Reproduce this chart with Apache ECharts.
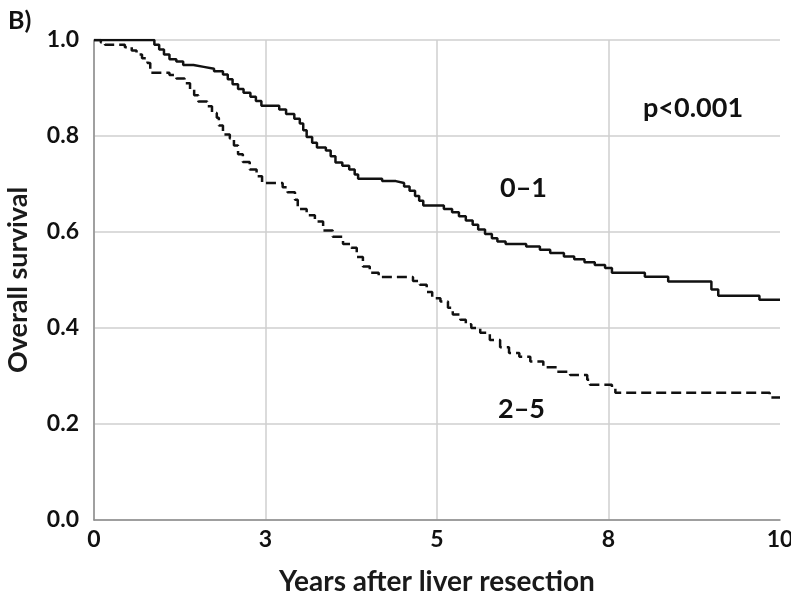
<!DOCTYPE html>
<html>
<head>
<meta charset="utf-8">
<script src="https://cdn.jsdelivr.net/npm/echarts@6/dist/echarts.min.js"></script>
<style>
html,body{margin:0;padding:0;background:#fff;}
#chart{width:791px;height:600px;}
</style>
</head>
<body>
<div id="chart"></div>
<script>
// Group 0–1 (solid): event times (years) and survival after each step
const solidTimes = [0, 0.88, 0.95, 1.02, 1.1, 1.2, 1.3, 1.45, 1.6, 1.75, 1.88, 1.95, 2.02, 2.1, 2.18, 2.28, 2.36, 2.44, 2.7, 2.8, 2.92, 3.0, 3.05, 3.1, 3.18, 3.25, 3.38, 3.45, 3.52, 3.62, 3.72, 3.8, 3.85, 4.2, 4.4, 4.52, 4.6, 4.68, 4.74, 4.8, 5.1, 5.22, 5.32, 5.42, 5.52, 5.6, 5.7, 5.8, 5.88, 6.0, 6.3, 6.5, 6.65, 6.85, 7.0, 7.15, 7.3, 7.45, 7.55, 8.03, 8.37, 9.0, 9.1, 9.7, 10.0];
const solidSurv = [1.0, 0.99, 0.98, 0.97, 0.96, 0.955, 0.948, 0.944, 0.94, 0.935, 0.928, 0.918, 0.908, 0.898, 0.89, 0.882, 0.873, 0.863, 0.855, 0.846, 0.836, 0.826, 0.812, 0.798, 0.786, 0.776, 0.77, 0.758, 0.745, 0.738, 0.73, 0.72, 0.711, 0.706, 0.702, 0.695, 0.686, 0.675, 0.665, 0.655, 0.648, 0.641, 0.633, 0.624, 0.615, 0.605, 0.596, 0.587, 0.58, 0.575, 0.57, 0.563, 0.556, 0.549, 0.543, 0.537, 0.531, 0.525, 0.515, 0.507, 0.497, 0.48, 0.467, 0.459, 0.459];
// Group 2–5 (dashed)
const dashTimes = [0, 0.1, 0.16, 0.45, 0.55, 0.62, 0.7, 0.78, 0.82, 1.1, 1.2, 1.32, 1.4, 1.46, 1.52, 1.65, 1.72, 1.79, 1.82, 1.88, 1.98, 2.04, 2.1, 2.17, 2.27, 2.37, 2.45, 2.75, 2.82, 2.93, 2.97, 3.1, 3.22, 3.34, 3.48, 3.63, 3.75, 3.83, 3.92, 4.02, 4.15, 4.65, 4.75, 4.85, 4.93, 5.05, 5.16, 5.23, 5.34, 5.42, 5.5, 5.63, 5.77, 5.92, 6.05, 6.2, 6.36, 6.55, 6.75, 6.94, 7.19, 7.23, 7.55, 7.6, 9.85, 10.0];
const dashSurv = [1.0, 0.995, 0.99, 0.985, 0.978, 0.97, 0.962, 0.952, 0.932, 0.927, 0.92, 0.91, 0.898, 0.885, 0.872, 0.862, 0.848, 0.838, 0.822, 0.803, 0.795, 0.78, 0.762, 0.746, 0.73, 0.716, 0.702, 0.693, 0.683, 0.667, 0.648, 0.635, 0.622, 0.603, 0.59, 0.575, 0.567, 0.548, 0.528, 0.515, 0.506, 0.498, 0.49, 0.475, 0.462, 0.455, 0.442, 0.428, 0.417, 0.408, 0.4, 0.39, 0.375, 0.36, 0.348, 0.34, 0.33, 0.318, 0.309, 0.302, 0.292, 0.282, 0.275, 0.265, 0.255, 0.255];

const xTicks = {min: 0, max: 10, interval: 2.5};
const yTicks = {min: 0, max: 1, interval: 0.2};

const FONT = 'Lato, "Open Sans", sans-serif';
const chart = echarts.init(document.getElementById('chart'), null, {renderer: 'canvas'});
const zip = (a, b) => a.map((t, i) => [t, b[i]]);

chart.setOption({
  animation: false,
  backgroundColor: '#fff',
  grid: {left: 94, right: 11, top: 40, bottom: 80, containLabel: false, outerBoundsMode: 'none'},
  xAxis: {
    type: 'value', min: xTicks.min, max: xTicks.max, interval: xTicks.interval,
    name: 'Years after liver resection', nameLocation: 'middle', nameGap: 48,
    nameTextStyle: {fontFamily: FONT, fontSize: 28, fontWeight: 'bold', color: '#1a1a1a'},
    axisLine: {show: true, lineStyle: {color: '#8c8c8c', width: 1.5}},
    axisTick: {show: false},
    axisLabel: {fontFamily: FONT, fontSize: 23, fontWeight: 'bold', color: '#111', margin: 8,
      formatter: v => String(Math.round(v))},
    splitLine: {show: true, showMaxLine: false, lineStyle: {color: '#cfcfcf', width: 1.5}}
  },
  yAxis: {
    type: 'value', min: yTicks.min, max: yTicks.max, interval: yTicks.interval,
    name: 'Overall survival', nameLocation: 'middle', nameGap: 62,
    nameTextStyle: {fontFamily: FONT, fontSize: 27, fontWeight: 'bold', color: '#1a1a1a'},
    axisLine: {show: true, lineStyle: {color: '#8c8c8c', width: 1.5}},
    axisTick: {show: false},
    axisLabel: {fontFamily: FONT, fontSize: 23, fontWeight: 'bold', color: '#111', margin: 15,
      formatter: v => v.toFixed(1)},
    splitLine: {show: true, lineStyle: {color: '#cfcfcf', width: 1.5}}
  },
  series: [
    {
      name: '0–1', type: 'line', step: 'end', symbol: 'none',
      data: zip(solidTimes, solidSurv),
      lineStyle: {color: '#111', width: 2.5, type: 'solid'}
    },
    {
      name: '2–5', type: 'line', step: 'end', symbol: 'none',
      data: zip(dashTimes, dashSurv),
      lineStyle: {color: '#111', width: 2.5, type: [10, 5]}
    }
  ],
  graphic: [
    {type: 'text', left: 8, top: 8, style: {text: 'B)', fontFamily: FONT, fontSize: 25, fontWeight: 'bold', fill: '#111'}},
    {type: 'text', left: 643, top: 95, style: {text: 'p<0.001', fontFamily: FONT, fontSize: 27, fontWeight: 'bold', fill: '#111'}},
    {type: 'text', left: 500, top: 175, style: {text: '0–1', fontFamily: FONT, fontSize: 27, fontWeight: 'bold', fill: '#111'}},
    {type: 'text', left: 498, top: 396, style: {text: '2–5', fontFamily: FONT, fontSize: 27, fontWeight: 'bold', fill: '#111'}}
  ]
});
</script>
</body>
</html>
